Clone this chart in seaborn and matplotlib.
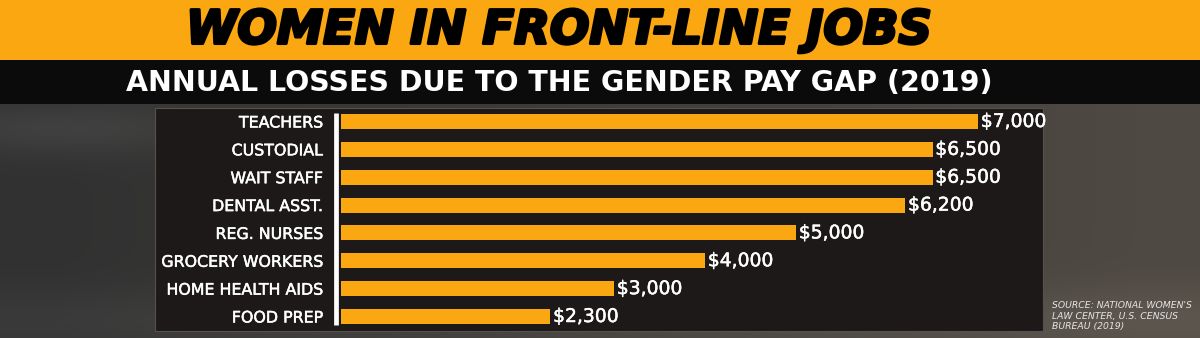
import numpy as np
import pandas as pd
import matplotlib
matplotlib.use("Agg")
import matplotlib.pyplot as plt
from matplotlib.patches import Rectangle
from matplotlib.lines import Line2D
import matplotlib.patheffects as pe
import seaborn as sns

# ---- data ----
categories = ["TEACHERS", "CUSTODIAL", "WAIT STAFF", "DENTAL ASST.", "REG. NURSES",
              "GROCERY WORKERS", "HOME HEALTH AIDS", "FOOD PREP"]
losses = [7000, 6500, 6500, 6200, 5000, 4000, 3000, 2300]
value_labels = ["$7,000", "$6,500", "$6,500", "$6,200", "$5,000", "$4,000", "$3,000", "$2,300"]
title = "WOMEN IN FRONT-LINE JOBS"
subtitle = "ANNUAL LOSSES DUE TO THE GENDER PAY GAP (2019)"
source = "SOURCE: NATIONAL WOMEN'S\nLAW CENTER, U.S. CENSUS\nBUREAU (2019)"

ORANGE = "#FBA712"
W, H = 1200, 338

sns.set_theme(style="white")
plt.rcParams["font.family"] = ["DejaVu Sans"]

fig = plt.figure(figsize=(W / 100, H / 100), dpi=100)

def fx(px):
    return px / W

def fy(py):
    return 1 - py / H

# ---- blurred photographic background (decorative gradient) ----
bg_ax = fig.add_axes([0, 0, 1, 1], zorder=0)
xs = np.linspace(0, 1, W)[None, :]
ys = np.linspace(0, 1, H)[:, None]
left = np.array([58, 58, 58]) / 255
right = np.array([92, 86, 78]) / 255
t = np.clip((xs - 0.05) / 0.9, 0, 1)[..., None]
img = left * (1 - t) + right * t
img = img * np.ones((H, 1, 1))
shade = (0.85 + 0.25 * np.exp(-((ys - 0.38) / 0.08) ** 2) * np.exp(-((xs - 0.05) / 0.12) ** 2)
         + 0.15 * np.exp(-((ys - 0.95) / 0.1) ** 2))[..., None]
img = np.clip(img * shade, 0, 1)
bg_ax.imshow(img, extent=[0, 1, 0, 1], aspect="auto", zorder=0)
bg_ax.set_xlim(0, 1)
bg_ax.set_ylim(0, 1)
bg_ax.axis("off")

# bands
fig.add_artist(Rectangle((0, fy(60)), 1, 60 / H, transform=fig.transFigure,
                         facecolor=ORANGE, edgecolor="none", zorder=1))
fig.add_artist(Rectangle((0, fy(104)), 1, 44 / H, transform=fig.transFigure,
                         facecolor="#0b0b0b", edgecolor="none", zorder=1))
# dark panel
fig.add_artist(Rectangle((fx(155), fy(331)), fx(1043 - 155), (331 - 108) / H,
                         transform=fig.transFigure, facecolor="#1c1918",
                         edgecolor="#55514d", linewidth=0.8, zorder=1))
# axis line
fig.add_artist(Line2D([fx(336), fx(336)], [fy(113), fy(325)], transform=fig.transFigure,
                      color="white", linewidth=3.4, solid_capstyle="butt", zorder=3))

# ---- bar chart ----
pitch = (316.5 - 121.5) / 7
top_px = 121.5 - pitch / 2
bot_px = 316.5 + pitch / 2
ax = fig.add_axes([fx(341), fy(bot_px), fx(978 - 341), (bot_px - top_px) / H], zorder=2)
df = pd.DataFrame({"category": categories, "loss": losses})
sns.barplot(data=df, y="category", x="loss", orient="h", color=ORANGE,
            width=15 / pitch, saturation=1, edgecolor="none", linewidth=0, ax=ax)
ax.set_xlim(0, 7000)
ax.set_ylim(len(categories) - 0.5, -0.5)
ax.patch.set_alpha(0)
for s in ax.spines.values():
    s.set_visible(False)
ax.set_xlabel("")
ax.set_ylabel("")
ax.set_xticks([])
ax.tick_params(axis="y", length=0, pad=13, labelsize=11.4, labelcolor="white")
thin = [pe.withStroke(linewidth=0.35, foreground="white")]
for lbl in ax.get_yticklabels():
    lbl.set_path_effects(thin)
vals = ax.bar_label(ax.containers[0], labels=value_labels, padding=2, color="white",
                    fontsize=13.5)
for v in vals:
    v.set_path_effects(thin)

# ---- titles ----
fig.canvas.draw()
renderer = fig.canvas.get_renderer()

def fit(txt, width_px):
    bb = txt.get_window_extent(renderer)
    txt.set_fontsize(txt.get_fontsize() * width_px / bb.width)

t1 = fig.text(fx(559), fy(31), title, ha="center", va="center", color="black",
              fontsize=34, fontweight="bold", fontstyle="italic",
              family=["DejaVu Sans"], zorder=4)
fit(t1, 746)
t1.set_path_effects([pe.withStroke(linewidth=2.2, foreground="black")])
t2 = fig.text(fx(559), fy(82.5), subtitle, ha="center", va="center", color="white",
              fontsize=19, fontweight="bold", family=["DejaVu Sans"], zorder=4)
fit(t2, 868)
t3 = fig.text(fx(1052), fy(331), source, ha="left", va="bottom", color="#e6e6e6",
              fontsize=6.3, fontstyle="italic", linespacing=1.2, zorder=4)
t3b = fig.text(0, 0, "SOURCE: NATIONAL WOMEN'S", fontsize=6.3, fontstyle="italic", alpha=0)
bb = t3b.get_window_extent(renderer)
t3.set_fontsize(6.3 * 140 / bb.width)

fig.savefig("out.png", dpi=100)
